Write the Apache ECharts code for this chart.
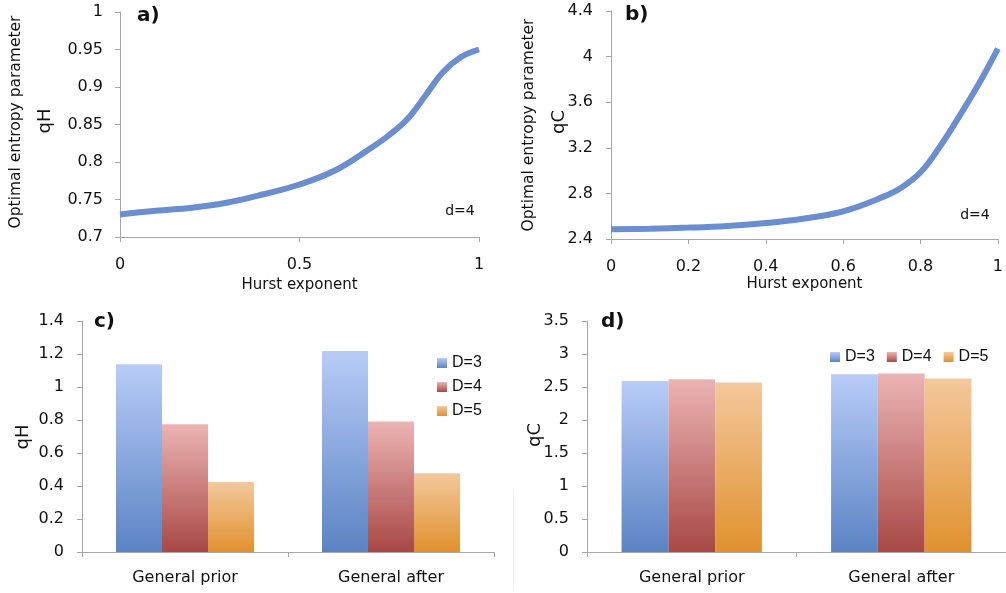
<!DOCTYPE html>
<html>
<head>
<meta charset="utf-8">
<script src="https://cdn.jsdelivr.net/npm/echarts@6/dist/echarts.min.js"></script>
<style>
html,body{margin:0;padding:0;background:#fff;}
#chart{width:1006px;height:593px;}
</style>
</head>
<body>
<div id="chart"></div>
<script>
// ---- Data ----
const hurstA = [0, 0.1, 0.2, 0.3, 0.4, 0.5, 0.6, 0.7, 0.75, 0.8, 0.85, 0.9, 0.95, 1.0];
const qHLine = [0.730, 0.735, 0.739, 0.746, 0.757, 0.770, 0.789, 0.819, 0.836, 0.857, 0.888, 0.920, 0.940, 0.950];
const hurstB = [0, 0.1, 0.2, 0.3, 0.4, 0.5, 0.6, 0.7, 0.75, 0.8, 0.85, 0.9, 0.95, 1.0];
const qCLine = [2.485, 2.490, 2.500, 2.515, 2.540, 2.580, 2.643, 2.765, 2.850, 2.985, 3.210, 3.476, 3.757, 4.070];
const barCategories = ['General prior', 'General after'];
const seriesNames = ['D=3', 'D=4', 'D=5'];
const qH_D3 = [1.138, 1.218];
const qH_D4 = [0.775, 0.791];
const qH_D5 = [0.424, 0.478];
const qC_D3 = [2.592, 2.693];
const qC_D4 = [2.617, 2.703];
const qC_D5 = [2.567, 2.628];

const FONT = 'DejaVu Sans';
const LEGEND_FONT = 'Liberation Sans';
const axisGray = '#a6a6a6';
const lineColor = '#6a8ecf';
function grad(top, bottom) {
  return new echarts.graphic.LinearGradient(0, 0, 0, 1, [
    {offset: 0, color: top}, {offset: 1, color: bottom}
  ]);
}
const barColors = [
  grad('#b8ccf7', '#5b83c4'),
  grad('#ebb4b3', '#a84845'),
  grad('#f3c89c', '#e1912e')
];
function fmt(v) { return String(Math.round(v * 1000) / 1000); }

const chart = echarts.init(document.getElementById('chart'), null, {renderer: 'canvas'});

const valueAxisCommon = {
  axisLine: {show: true, lineStyle: {color: axisGray, width: 1}},
  axisTick: {show: true, length: 5, lineStyle: {color: axisGray}},
  splitLine: {show: false},
  axisLabel: {color: '#111', fontFamily: FONT, fontSize: 16}
};

function pairs(xs, ys) { return xs.map((x, i) => [x, ys[i]]); }

function barSeries(values, idx, axisIdx) {
  return {
    name: seriesNames[idx], type: 'bar',
    xAxisIndex: axisIdx, yAxisIndex: axisIdx,
    data: values,
    barGap: '0%', barCategoryGap: '33%',
    itemStyle: {color: barColors[idx]},
    emphasis: {disabled: true}
  };
}

const option = {
  animation: false,
  textStyle: {fontFamily: FONT},
  grid: [
    {left: 120, top: 12, right: 527, bottom: 356},
    {left: 611, top: 11, right: 8, bottom: 354},
    {left: 82, top: 321, right: 512, bottom: 41},
    {left: 587, top: 321, right: 0, bottom: 41}
  ],
  legend: [
    {
      data: seriesNames, orient: 'vertical', left: 432, top: 350,
      itemWidth: 10, itemHeight: 10, itemGap: 8, icon: 'rect',
      textStyle: {fontFamily: LEGEND_FONT, fontSize: 16, color: '#111'},
      selectedMode: false
    },
    {
      data: seriesNames, orient: 'horizontal', left: 825, top: 344,
      itemWidth: 10, itemHeight: 10, itemGap: 12, icon: 'rect',
      textStyle: {fontFamily: LEGEND_FONT, fontSize: 16, color: '#111'},
      selectedMode: false
    }
  ],
  xAxis: [
    Object.assign({}, valueAxisCommon, {
      gridIndex: 0, type: 'value', min: 0, max: 1, interval: 0.5,
      axisLabel: {color: '#111', fontFamily: FONT, fontSize: 16, margin: 20, formatter: fmt},
      name: 'Hurst exponent', nameLocation: 'middle', nameGap: 41,
      nameTextStyle: {fontFamily: FONT, fontSize: 15, color: '#111'}
    }),
    Object.assign({}, valueAxisCommon, {
      gridIndex: 1, type: 'value', min: 0, max: 1, interval: 0.2,
      axisLabel: {color: '#111', fontFamily: FONT, fontSize: 16, margin: 20, formatter: fmt},
      name: 'Hurst exponent', nameLocation: 'middle', nameGap: 38,
      nameTextStyle: {fontFamily: FONT, fontSize: 15, color: '#111'}
    }),
    {
      gridIndex: 2, type: 'category', data: barCategories,
      axisLine: {show: true, lineStyle: {color: axisGray}},
      axisTick: {show: true, length: 5, lineStyle: {color: axisGray}},
      axisLabel: {color: '#111', fontFamily: FONT, fontSize: 16, margin: 18}
    },
    {
      gridIndex: 3, type: 'category', data: barCategories,
      axisLine: {show: true, lineStyle: {color: axisGray}},
      axisTick: {show: true, length: 5, lineStyle: {color: axisGray}},
      axisLabel: {color: '#111', fontFamily: FONT, fontSize: 16, margin: 18}
    }
  ],
  yAxis: [
    Object.assign({}, valueAxisCommon, {
      gridIndex: 0, type: 'value', min: 0.7, max: 1, interval: 0.05,
      axisLabel: {color: '#111', fontFamily: FONT, fontSize: 16, margin: 17, formatter: fmt}
    }),
    Object.assign({}, valueAxisCommon, {
      gridIndex: 1, type: 'value', min: 2.4, max: 4.4, interval: 0.4,
      axisLabel: {color: '#111', fontFamily: FONT, fontSize: 16, margin: 18, formatter: fmt}
    }),
    Object.assign({}, valueAxisCommon, {
      gridIndex: 2, type: 'value', min: 0, max: 1.4, interval: 0.2,
      axisLabel: {color: '#111', fontFamily: FONT, fontSize: 16, margin: 18, formatter: fmt}
    }),
    Object.assign({}, valueAxisCommon, {
      gridIndex: 3, type: 'value', min: 0, max: 3.5, interval: 0.5,
      axisLabel: {color: '#111', fontFamily: FONT, fontSize: 16, margin: 18, formatter: fmt}
    })
  ],
  series: [
    {
      type: 'line', xAxisIndex: 0, yAxisIndex: 0, smooth: 0.4,
      data: pairs(hurstA, qHLine), showSymbol: false,
      lineStyle: {color: lineColor, width: 6}, emphasis: {disabled: true}
    },
    {
      type: 'line', xAxisIndex: 1, yAxisIndex: 1, smooth: 0.4,
      data: pairs(hurstB, qCLine), showSymbol: false,
      lineStyle: {color: lineColor, width: 6}, emphasis: {disabled: true}
    },
    barSeries(qH_D3, 0, 2), barSeries(qH_D4, 1, 2), barSeries(qH_D5, 2, 2),
    barSeries(qC_D3, 0, 3), barSeries(qC_D4, 1, 3), barSeries(qC_D5, 2, 3)
  ],
  graphic: [
    {type: 'text', x: 16, y: 122, rotation: Math.PI / 2,
      style: {text: 'Optimal entropy parameter', fontFamily: FONT, fontSize: 15.5, fill: '#111', align: 'center', verticalAlign: 'middle'}},
    {type: 'text', x: 45, y: 121, rotation: Math.PI / 2,
      style: {text: 'qH', fontFamily: FONT, fontSize: 18, fill: '#111', align: 'center', verticalAlign: 'middle'}},
    {type: 'text', x: 529, y: 125, rotation: Math.PI / 2,
      style: {text: 'Optimal entropy parameter', fontFamily: FONT, fontSize: 15.5, fill: '#111', align: 'center', verticalAlign: 'middle'}},
    {type: 'text', x: 559, y: 122, rotation: Math.PI / 2,
      style: {text: 'qC', fontFamily: FONT, fontSize: 18, fill: '#111', align: 'center', verticalAlign: 'middle'}},
    {type: 'text', x: 23, y: 437, rotation: Math.PI / 2,
      style: {text: 'qH', fontFamily: FONT, fontSize: 18, fill: '#111', align: 'center', verticalAlign: 'middle'}},
    {type: 'text', x: 535, y: 435, rotation: Math.PI / 2,
      style: {text: 'qC', fontFamily: FONT, fontSize: 18, fill: '#111', align: 'center', verticalAlign: 'middle'}},
    {type: 'text', x: 137, y: 16,
      style: {text: 'a)', fontFamily: FONT, fontSize: 20, fontWeight: 'bold', fill: '#111', verticalAlign: 'middle'}},
    {type: 'text', x: 625, y: 15,
      style: {text: 'b)', fontFamily: FONT, fontSize: 20, fontWeight: 'bold', fill: '#111', verticalAlign: 'middle'}},
    {type: 'text', x: 94, y: 322,
      style: {text: 'c)', fontFamily: FONT, fontSize: 20, fontWeight: 'bold', fill: '#111', verticalAlign: 'middle'}},
    {type: 'text', x: 601, y: 322,
      style: {text: 'd)', fontFamily: FONT, fontSize: 20, fontWeight: 'bold', fill: '#111', verticalAlign: 'middle'}},
    {type: 'text', x: 460, y: 211,
      style: {text: 'd=4', fontFamily: FONT, fontSize: 14, fill: '#111', align: 'center', verticalAlign: 'middle'}},
    {type: 'text', x: 975, y: 215,
      style: {text: 'd=4', fontFamily: FONT, fontSize: 14, fill: '#111', align: 'center', verticalAlign: 'middle'}},
    {type: 'line', shape: {x1: 513.5, y1: 490, x2: 513.5, y2: 590},
      style: {stroke: '#eeeeee', lineWidth: 1}}
  ]
};
chart.setOption(option);
</script>
</body>
</html>
